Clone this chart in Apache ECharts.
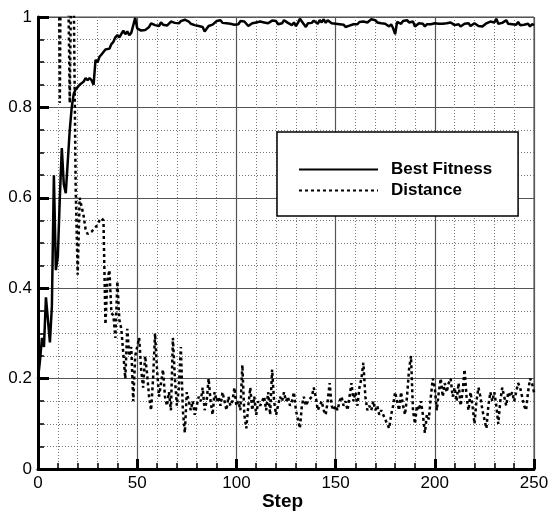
<!DOCTYPE html>
<html>
<head>
<meta charset="utf-8">
<script src="https://cdn.jsdelivr.net/npm/echarts@6/dist/echarts.min.js"></script>
<style>
  html, body { margin: 0; padding: 0; background: #fff; }
  #chart { width: 548px; height: 511px; }
</style>
</head>
<body>
<div id="chart"></div>
<script>
// index = step (0..250)
var fitness = [
  0.20, 0.24, 0.29, 0.27, 0.38, 0.33, 0.28, 0.36, 0.65, 0.44,
  0.47, 0.60, 0.71, 0.63, 0.61, 0.68, 0.75, 0.80, 0.83, 0.84,
  0.845, 0.85, 0.853, 0.857, 0.865, 0.86, 0.865, 0.86, 0.85, 0.905,
  0.90, 0.912, 0.917, 0.92, 0.928, 0.93, 0.93, 0.94, 0.945, 0.955,
  0.96, 0.955, 0.958, 0.97, 0.962, 0.968, 0.96, 0.965, 0.962, 0.998,
  0.975, 0.972, 0.97, 0.97, 0.971, 0.97, 0.978, 0.986, 0.984, 0.982,
  0.985, 0.980, 0.988, 0.983, 0.986, 0.981, 0.984, 0.990, 0.993, 0.987,
  0.990, 0.986, 0.991, 0.988, 0.994, 0.992, 0.990, 0.985, 0.983, 0.982,
  0.984, 0.980, 0.982, 0.978, 0.968, 0.965, 0.980, 0.982, 0.983, 0.986,
  0.991, 0.994, 0.993, 0.987, 0.988, 0.986, 0.989, 0.985, 0.981, 0.983,
  0.986, 0.984, 0.991, 0.992, 0.990, 0.986, 0.980, 0.977, 0.986, 0.989,
  0.988, 0.985, 0.990, 0.992, 0.988, 0.991, 0.986, 0.990, 0.992, 0.988,
  0.991, 0.984, 0.980, 0.986, 0.993, 0.990, 0.987, 0.984, 0.982, 0.988,
  0.980, 0.987, 0.996, 0.990, 0.984, 0.978, 0.986, 0.990, 0.987, 0.992,
  0.988, 0.985, 0.993, 0.988, 0.995, 0.987, 0.993, 0.989, 0.986, 0.990,
  0.985, 0.982, 0.984, 0.980, 0.983, 0.978, 0.977, 0.981, 0.979, 0.984,
  0.987, 0.984, 0.989, 0.987, 0.990, 0.986, 0.988, 0.992, 0.995, 0.996,
  0.993, 0.988, 0.991, 0.986, 0.989, 0.985, 0.983, 0.979, 0.984, 0.975,
  0.962, 0.989, 0.988, 0.985, 0.991, 0.987, 0.993, 0.988, 0.984, 0.990,
  0.979, 0.983, 0.986, 0.982, 0.985, 0.979, 0.984, 0.986, 0.984, 0.987,
  0.986, 0.985, 0.985, 0.985, 0.985, 0.985, 0.986, 0.983, 0.988, 0.986,
  0.982, 0.980, 0.984, 0.979, 0.983, 0.985, 0.981, 0.986, 0.980, 0.984,
  0.986, 0.983, 0.980, 0.982, 0.979, 0.983, 0.986, 0.985, 0.990, 0.992,
  0.988, 0.996, 0.985, 0.983, 0.987, 0.990, 0.993, 0.985, 0.986, 0.984,
  0.988, 0.983, 0.989, 0.982, 0.986, 0.983, 0.980, 0.985, 0.979, 0.984,
  0.982
];

// values above 1 run off the top of the plot
var distance = [
  1.5, 1.5, 1.5, 1.5, 1.5, 1.5, 1.5, 1.5, 1.5, 1.5,
  1.5, 0.81, 1.5, 1.5, 1.5, 1.5, 0.81, 1.2, 1.05, 0.62,
  0.43, 0.60, 0.58, 0.56, 0.53, 0.52, 0.52, 0.525, 0.53, 0.53,
  0.54, 0.55, 0.555, 0.55, 0.32, 0.42, 0.44, 0.345, 0.34, 0.29,
  0.415, 0.33, 0.31, 0.31, 0.20, 0.31, 0.25, 0.27, 0.15, 0.25,
  0.27, 0.29, 0.22, 0.18, 0.25, 0.21, 0.16, 0.13, 0.20, 0.30,
  0.22, 0.16, 0.19, 0.22, 0.16, 0.14, 0.17, 0.13, 0.29, 0.20,
  0.14, 0.18, 0.27, 0.13, 0.08, 0.17, 0.15, 0.13, 0.15, 0.12,
  0.14, 0.16, 0.15, 0.18, 0.13, 0.15, 0.20, 0.15, 0.12, 0.17,
  0.15, 0.16, 0.14, 0.17, 0.15, 0.13, 0.16, 0.14, 0.15, 0.18,
  0.14, 0.15, 0.13, 0.23, 0.12, 0.09, 0.14, 0.18, 0.13, 0.16,
  0.12, 0.15, 0.14, 0.15, 0.16, 0.13, 0.17, 0.12, 0.22, 0.15,
  0.12, 0.14, 0.16, 0.15, 0.17, 0.15, 0.16, 0.14, 0.15, 0.17,
  0.13, 0.11, 0.09, 0.14, 0.16, 0.14, 0.15, 0.15, 0.16, 0.18,
  0.16, 0.13, 0.14, 0.15, 0.13, 0.12, 0.15, 0.19, 0.14, 0.13,
  0.14, 0.13, 0.15, 0.16, 0.14, 0.15, 0.13, 0.16, 0.19, 0.15,
  0.17, 0.14, 0.18, 0.20, 0.235, 0.16, 0.13, 0.14, 0.13, 0.15,
  0.13, 0.14, 0.12, 0.13, 0.12, 0.11, 0.10, 0.09, 0.12, 0.14,
  0.17, 0.15, 0.13, 0.17, 0.14, 0.12, 0.16, 0.22, 0.25, 0.13,
  0.10, 0.14, 0.13, 0.15, 0.12, 0.08, 0.12, 0.11, 0.16, 0.20,
  0.18, 0.13, 0.17, 0.20, 0.16, 0.19, 0.17, 0.19, 0.20, 0.16,
  0.18, 0.15, 0.19, 0.14, 0.17, 0.22, 0.16, 0.13, 0.17, 0.14,
  0.10, 0.15, 0.18, 0.16, 0.13, 0.11, 0.09, 0.14, 0.17, 0.15,
  0.17, 0.14, 0.10, 0.15, 0.18, 0.16, 0.14, 0.17, 0.16, 0.17,
  0.15, 0.17, 0.19, 0.18, 0.16, 0.14, 0.13, 0.17, 0.20, 0.19,
  0.17
];

var xTicks = [0, 50, 100, 150, 200, 250];
var yTicks = [0, 0.2, 0.4, 0.6, 0.8, 1];

function toPairs(arr) {
    return arr.map(function (v, i) { return [i, v]; });
}

var font = 'Arial, "Liberation Sans", sans-serif';

var myChart = echarts.init(document.getElementById('chart'), null, { renderer: 'canvas' });
var option = {
    animation: false,
    backgroundColor: '#fff',
    grid: {
        left: 38,
        right: 14,
        top: 17,
        bottom: 42,
        outerBoundsMode: 'none',
        containLabel: false,
        show: true,
        borderColor: '#444',
        borderWidth: 1
    },
    legend: {
        orient: 'vertical',
        left: 277,
        top: 132,
        padding: [29, 26, 17, 21],
        itemWidth: 79,
        itemHeight: 17,
        itemGap: 4,
        backgroundColor: '#fff',
        borderColor: '#000',
        borderWidth: 1.5,
        borderRadius: 0,
        itemStyle: { color: 'rgba(0,0,0,0)', borderWidth: 0, opacity: 0 },
        textStyle: {
            color: '#000',
            fontSize: 17,
            fontWeight: 'bold',
            fontFamily: font,
            padding: [0, 0, 0, 8]
        },
        data: ['Best Fitness', 'Distance']
    },
    xAxis: {
        type: 'value',
        min: xTicks[0],
        max: xTicks[xTicks.length - 1],
        interval: 50,
        name: 'Step',
        nameLocation: 'middle',
        nameGap: 23,
        nameMoveOverlap: false,
        nameTextStyle: {
            color: '#000',
            fontSize: 19,
            fontWeight: 'bold',
            fontFamily: font,
            verticalAlign: 'top',
            padding: [0, 7, 0, 0]
        },
        axisLine: { onZero: false, lineStyle: { color: '#000', width: 3 } },
        axisTick: { inside: true, length: 10, lineStyle: { color: '#000', width: 3 } },
        minorTick: { show: true, splitNumber: 5, length: 6, lineStyle: { color: '#000', width: 1.5 } },
        axisLabel: { color: '#000', fontSize: 17, fontFamily: font, margin: 6 },
        splitLine: { show: true, lineStyle: { color: '#555', width: 1.2 } },
        minorSplitLine: { show: true, lineStyle: { color: '#777', width: 1, type: [1, 2] } }
    },
    yAxis: {
        type: 'value',
        min: yTicks[0],
        max: yTicks[yTicks.length - 1],
        interval: 0.2,
        axisLine: { onZero: false, lineStyle: { color: '#000', width: 3 } },
        axisTick: { inside: true, length: 11, lineStyle: { color: '#000', width: 3 } },
        minorTick: { show: true, splitNumber: 4, length: 6, lineStyle: { color: '#000', width: 1.5 } },
        axisLabel: { color: '#000', fontSize: 17, fontFamily: font, margin: 6 },
        splitLine: { show: true, lineStyle: { color: '#555', width: 1.2 } },
        minorSplitLine: { show: true, lineStyle: { color: '#777', width: 1, type: [1, 2] } }
    },
    series: [{
        name: 'Best Fitness',
        type: 'line',
        symbol: 'none',
        clip: true,
        color: '#000',
        lineStyle: { color: '#000', width: 2.5, type: 'solid' },
        data: toPairs(fitness)
    }, {
        name: 'Distance',
        type: 'line',
        symbol: 'none',
        clip: true,
        color: '#000',
        lineStyle: { color: '#000', width: 2.5, type: [3, 3] },
        data: toPairs(distance)
    }]
};
myChart.setOption(option);
</script>
</body>
</html>
